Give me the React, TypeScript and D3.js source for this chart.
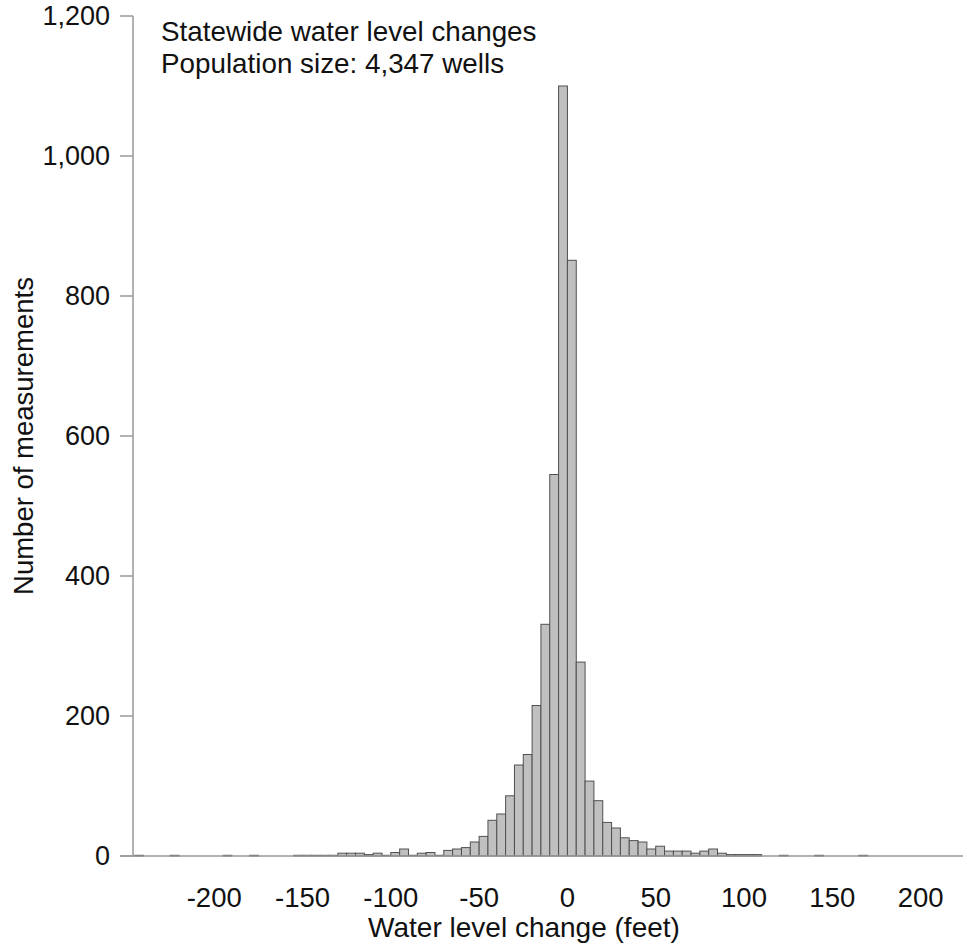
import React from "react";
import * as d3 from "d3";

// lower edge of each non-empty 5 ft bin, and its count
const binStarts = [
  -245, -225, -195, -180, -155, -150, -145, -140, -135, -130, -125, -120, -115,
  -110, -105, -100, -95, -90, -85, -80, -75, -70, -65, -60, -55, -50, -45, -40,
  -35, -30, -25, -20, -15, -10, -5, 0, 5, 10, 15, 20, 25, 30, 35, 40, 45, 50,
  55, 60, 65, 70, 75, 80, 85, 90, 95, 100, 105, 120, 140, 165,
];
const counts = [
  1, 1, 1, 1, 1, 1, 1, 1, 1, 4, 4, 4, 2, 4, 1, 5, 10, 1, 4, 5, 1, 8, 10, 12,
  20, 28, 51, 60, 86, 130, 145, 215, 331, 545, 1100, 851, 277, 107, 79, 48, 40,
  26, 22, 20, 10, 14, 7, 7, 7, 4, 7, 10, 4, 2, 2, 2, 2, 1, 1, 1,
];
const binWidth = 5;
const xTicks = [-200, -150, -100, -50, 0, 50, 100, 150, 200];
const yTicks = [0, 200, 400, 600, 800, 1000, 1200];
const titleLines = ["Statewide water level changes", "Population size: 4,347 wells"];

const W = 964;
const H = 946;
const font = "'Liberation Sans', Arial, sans-serif";

export default function App() {
  const x = d3.scaleLinear().domain([-246, 224]).range([133, 963]);
  const y = d3.scaleLinear().domain([0, 1200]).range([856, 16]);
  const fmt = d3.format(",");
  const axisColor = "#999";

  const bins = binStarts.map((b, i) => ({ x0: b, x1: b + binWidth, n: counts[i] }));

  return (
    <svg
      width={W}
      height={H}
      style={{ position: "absolute", left: 0, top: 0, background: "#fff" }}
      fontFamily={font}
    >
      {/* bars */}
      {bins.map((d) => (
        <rect
          key={d.x0}
          x={x(d.x0)}
          y={y(d.n)}
          width={x(d.x1) - x(d.x0)}
          height={y(0) - y(d.n)}
          fill="#c0c0c0"
          stroke="#505050"
          strokeWidth={1}
        />
      ))}

      {/* axes */}
      <line x1={x.range()[0]} x2={x.range()[0]} y1={y(1200)} y2={y(0)} stroke={axisColor} strokeWidth={1.5} />
      <line x1={120} x2={963} y1={y(0)} y2={y(0)} stroke={axisColor} strokeWidth={1.5} />
      {yTicks.map((t) => (
        <g key={t}>
          <line x1={120} x2={133} y1={y(t)} y2={y(t)} stroke={axisColor} strokeWidth={1.5} />
          <text x={110} y={y(t)} dy="0.35em" textAnchor="end" fontSize={27} fill="#111">
            {fmt(t)}
          </text>
        </g>
      ))}
      {xTicks.map((t) => (
        <text key={t} x={x(t)} y={907} textAnchor="middle" fontSize={27.5} fill="#111">
          {t}
        </text>
      ))}

      <text x={524} y={937} textAnchor="middle" fontSize={28} fill="#111">
        Water level change (feet)
      </text>
      <text
        transform={`translate(33,${(y(0) + y(1200)) / 2}) rotate(-90)`}
        textAnchor="middle"
        fontSize={27.5}
        fill="#111"
      >
        Number of measurements
      </text>

      {titleLines.map((s, i) => (
        <text key={s} x={161} y={41 + i * 32} fontSize={27.8} fill="#111">
          {s}
        </text>
      ))}
    </svg>
  );
}
